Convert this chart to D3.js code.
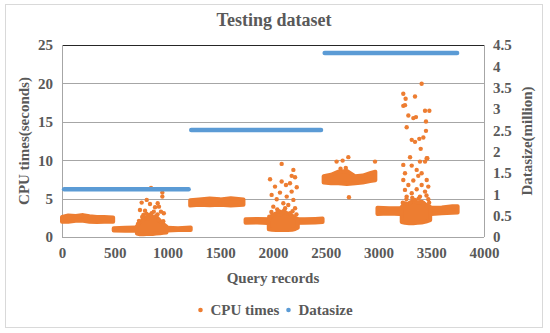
<!DOCTYPE html>
<html>
<head>
<meta charset="utf-8">
<script src="https://cdn.jsdelivr.net/npm/d3@7"></script>
<style>
  html, body { margin: 0; padding: 0; background: #fff; }
  svg text { font-family: "Liberation Serif", "Times New Roman", serif; font-weight: bold; fill: #595959; }
</style>
</head>
<body>
<svg id="chart" width="550" height="333"></svg>
<script>
// ---------- DATA ----------
const xTicks = [0, 500, 1000, 1500, 2000, 2500, 3000, 3500, 4000];
const yTicks = [0, 5, 10, 15, 20, 25];
const y2Ticks = [0, 0.5, 1, 1.5, 2, 2.5, 3, 3.5, 4, 4.5];
const y2TickLabels = ["0", "0.5", "1", "1.5", "2", "2.5", "3", "3.5", "4", "4.5"];

// Datasize (million) per range of query records
const datasizeStart = [20, 1225, 2490];
const datasizeEnd = [1200, 2455, 3745];
const datasizeValue = [1.12, 2.51, 4.31];

// CPU times: dense bands of points, estimated as [record, lower, upper] (seconds)
const bandA = [[0, 2.0, 2.6], [60, 2.0, 2.8], [130, 2.1, 2.75], [200, 2.1, 2.85], [260, 2.0, 2.7], [330, 1.95, 2.6], [400, 2.0, 2.6], [485, 2.0, 2.55]];
const bandB = [[490, 0.85, 1.15], [600, 0.8, 1.2], [700, 0.8, 1.25], [1000, 0.85, 1.2], [1100, 0.9, 1.15], [1220, 0.9, 1.25]];
const bandC = [[1215, 4.1, 4.8], [1300, 4.2, 4.9], [1400, 4.15, 5.0], [1500, 4.2, 4.9], [1600, 4.1, 5.05], [1720, 4.2, 4.9]];
const bandD = [[1740, 1.85, 2.3], [1850, 1.9, 2.35], [2000, 1.8, 2.3], [2300, 1.85, 2.3], [2400, 1.9, 2.35], [2470, 1.95, 2.4]];
const bandE = [[2480, 7.1, 7.9], [2550, 7.0, 8.1], [2620, 7.0, 8.5], [2700, 6.9, 8.6], [2780, 7.0, 7.9], [2850, 7.1, 8.0], [2920, 7.3, 8.3], [2970, 7.4, 8.5]];
const bandF = [[2990, 3.0, 3.8], [3100, 3.05, 3.75], [3200, 3.0, 3.75], [3500, 3.0, 3.8], [3600, 3.1, 3.85], [3700, 3.15, 4.0], [3750, 3.2, 4.0]];
const cluster1 = [[710, 0.45, 1.4], [740, 0.35, 1.9], [770, 0.35, 2.3], [800, 0.4, 2.6], [830, 0.4, 2.9], [860, 0.4, 2.5], [890, 0.45, 2.7], [930, 0.5, 2.1], [960, 0.55, 1.7], [990, 0.6, 1.35]];
const cluster2 = [[1960, 1.0, 2.3], [1990, 0.95, 2.8], [2030, 0.9, 3.1], [2070, 0.9, 2.9], [2100, 0.9, 3.4], [2140, 0.9, 3.0], [2180, 0.95, 2.8], [2210, 1.05, 2.5], [2235, 1.2, 2.3]];
const cluster3 = [[3220, 1.95, 3.9], [3250, 1.85, 4.4], [3290, 1.8, 4.3], [3330, 1.8, 4.8], [3370, 1.85, 4.5], [3410, 1.9, 4.6], [3450, 2.0, 4.2], [3490, 2.2, 3.9]];
const bands = [bandA, bandB, bandC, bandD, bandE, bandF, cluster1, cluster2, cluster3];

// CPU times: scattered individual points [record, seconds]
const cpuPoints = [
  [844, 6.4], [951, 5.78], [951, 5.26], [755, 4.48], [803, 4.83], [834, 4.3], [907, 4.39],
  [882, 3.87], [739, 3.52], [787, 3.43], [938, 3.3], [850, 3.09], [919, 3.95], [771, 2.87],
  [882, 2.65], [818, 2.44], [913, 2.22], [965, 3.1], [730, 2.1], [760, 2.6], [800, 3.05],
  [870, 3.3], [905, 2.95], [960, 2.05], [720, 1.7],
  [2082, 9.52], [2193, 8.74], [2177, 7.96], [2209, 7.78], [1972, 7.52], [2082, 7.22],
  [2019, 6.56], [2123, 6.78], [2161, 7.0], [2225, 6.48], [1987, 5.48], [2066, 5.78],
  [2130, 5.26], [2177, 5.91], [2035, 4.91], [2193, 4.83], [2098, 4.39], [2145, 4.17],
  [2003, 3.95], [2209, 3.74], [2066, 3.3], [2161, 3.09], [1985, 3.25], [2040, 3.6],
  [2115, 3.75], [2185, 3.35], [2222, 2.95], [1965, 2.65], [2050, 3.35],
  [2714, 10.4], [2660, 9.95], [2603, 9.82], [2720, 5.18], [2967, 9.82], [2640, 8.9], [2690, 9.0],
  [3409, 19.95], [3235, 18.65], [3257, 18.0], [3346, 18.3], [3235, 17.08], [3251, 17.17],
  [3441, 16.43], [3482, 16.43], [3283, 15.82], [3330, 15.48], [3355, 15.61], [3450, 15.04],
  [3267, 14.3], [3450, 13.82], [3315, 12.65], [3346, 12.39], [3387, 12.78], [3425, 12.95],
  [3400, 11.48], [3299, 10.39], [3457, 10.26], [3393, 9.82], [3441, 9.82], [3463, 10.26],
  [3235, 9.39], [3315, 9.3], [3362, 8.74], [3409, 8.3], [3251, 8.3], [3377, 7.96],
  [3235, 7.43], [3457, 7.43], [3330, 7.35], [3283, 6.78], [3409, 6.78], [3472, 6.56],
  [3251, 6.13], [3362, 6.22], [3315, 5.7], [3441, 5.91], [3267, 5.26], [3393, 5.26],
  [3472, 4.91], [3346, 4.83], [3299, 4.48], [3425, 4.39], [3230, 4.45], [3265, 4.95],
  [3380, 5.0], [3480, 4.45], [3320, 5.1], [3455, 5.4]
];

// ---------- CHART ----------
const svg = d3.select("#chart");
const orange = "#ED7D31", blue = "#5B9BD5";
const pLeft = 62, pRight = 484, pTop = 45, pBottom = 237;

const x = d3.scaleLinear().domain([0, 4000]).range([pLeft, pRight]);
const y = d3.scaleLinear().domain([0, 25]).range([pBottom, pTop]);
const y2 = d3.scaleLinear().domain([0, 4.5]).range([pBottom, pTop]);

// outer border
svg.append("rect").attr("x", 5.5).attr("y", 4.5).attr("width", 537).attr("height", 323)
  .attr("fill", "none").attr("stroke", "#d9d9d9");

// gridlines
svg.append("g").selectAll("line").data(yTicks.slice(0, -1)).join("line")
  .attr("x1", pLeft).attr("x2", pRight)
  .attr("y1", d => Math.round(y(d)) + 0.5).attr("y2", d => Math.round(y(d)) + 0.5)
  .attr("stroke", "#a6a6a6").attr("stroke-width", 1);
// frame
svg.append("line").attr("x1", pLeft).attr("x2", pRight).attr("y1", y(25) + 0.5).attr("y2", y(25) + 0.5)
  .attr("stroke", "#262626").attr("stroke-width", 1);
svg.append("line").attr("x1", pLeft + 0.5).attr("x2", pLeft + 0.5).attr("y1", pTop).attr("y2", pBottom)
  .attr("stroke", "#a6a6a6");
svg.append("line").attr("x1", pRight + 0.5).attr("x2", pRight + 0.5).attr("y1", pTop).attr("y2", pBottom)
  .attr("stroke", "#a6a6a6");

// CPU band areas
const area = d3.area().x(d => x(d[0])).y0(d => y(d[1])).y1(d => y(d[2])).curve(d3.curveLinear);
svg.append("g").selectAll("path").data(bands).join("path")
  .attr("d", area).attr("fill", orange).attr("stroke", orange)
  .attr("stroke-width", 4).attr("stroke-linejoin", "round");

// CPU points
svg.append("g").selectAll("circle").data(cpuPoints).join("circle")
  .attr("cx", d => x(d[0])).attr("cy", d => y(d[1])).attr("r", 2.2).attr("fill", orange);

// Datasize lines
svg.append("g").selectAll("line").data(datasizeValue).join("line")
  .attr("x1", (d, i) => x(datasizeStart[i])).attr("x2", (d, i) => x(datasizeEnd[i]))
  .attr("y1", d => y2(d)).attr("y2", d => y2(d))
  .attr("stroke", blue).attr("stroke-width", 4.5).attr("stroke-linecap", "round");

// axes
const fs = 15;
const xAxis = svg.append("g").attr("transform", `translate(0,${pBottom})`)
  .call(d3.axisBottom(x).tickValues(xTicks).tickSize(0).tickPadding(10).tickFormat(d3.format("d")));
const yAxis = svg.append("g").attr("transform", `translate(${pLeft},0)`)
  .call(d3.axisLeft(y).tickValues(yTicks).tickSize(0).tickPadding(9));
const y2Axis = svg.append("g").attr("transform", `translate(${pRight},0)`)
  .call(d3.axisRight(y2).tickValues(y2Ticks).tickSize(0).tickPadding(9)
    .tickFormat((d, i) => y2TickLabels[i]));
[xAxis, yAxis, y2Axis].forEach(g => {
  g.select(".domain").remove();
  g.selectAll("text").style("font-family", "'Liberation Serif', serif")
    .style("font-weight", "bold").style("font-size", fs + "px").attr("fill", "#595959");
});

// titles
svg.append("text").attr("x", 274).attr("y", 26).attr("text-anchor", "middle")
  .style("font-size", "18px").text("Testing dataset");
svg.append("text").attr("x", 273).attr("y", 283).attr("text-anchor", "middle")
  .style("font-size", "15px").text("Query records");
svg.append("text").attr("transform", "translate(29,141) rotate(-90)").attr("text-anchor", "middle")
  .style("font-size", "15px").text("CPU times(seconds)");
svg.append("text").attr("transform", "translate(532,141) rotate(-90)").attr("text-anchor", "middle")
  .style("font-size", "15px").text("Datasize(million)");

// legend
const legendItems = [{ label: "CPU times", color: orange }, { label: "Datasize", color: blue }];
const legendX = [200.5, 288.5];
const lg = svg.append("g").selectAll("g").data(legendItems).join("g")
  .attr("transform", (d, i) => `translate(${legendX[i]},310)`);
lg.append("circle").attr("r", 2.3).attr("fill", d => d.color);
lg.append("text").attr("x", 10).attr("y", 5).style("font-size", "15px").text(d => d.label);
</script>
</body>
</html>
